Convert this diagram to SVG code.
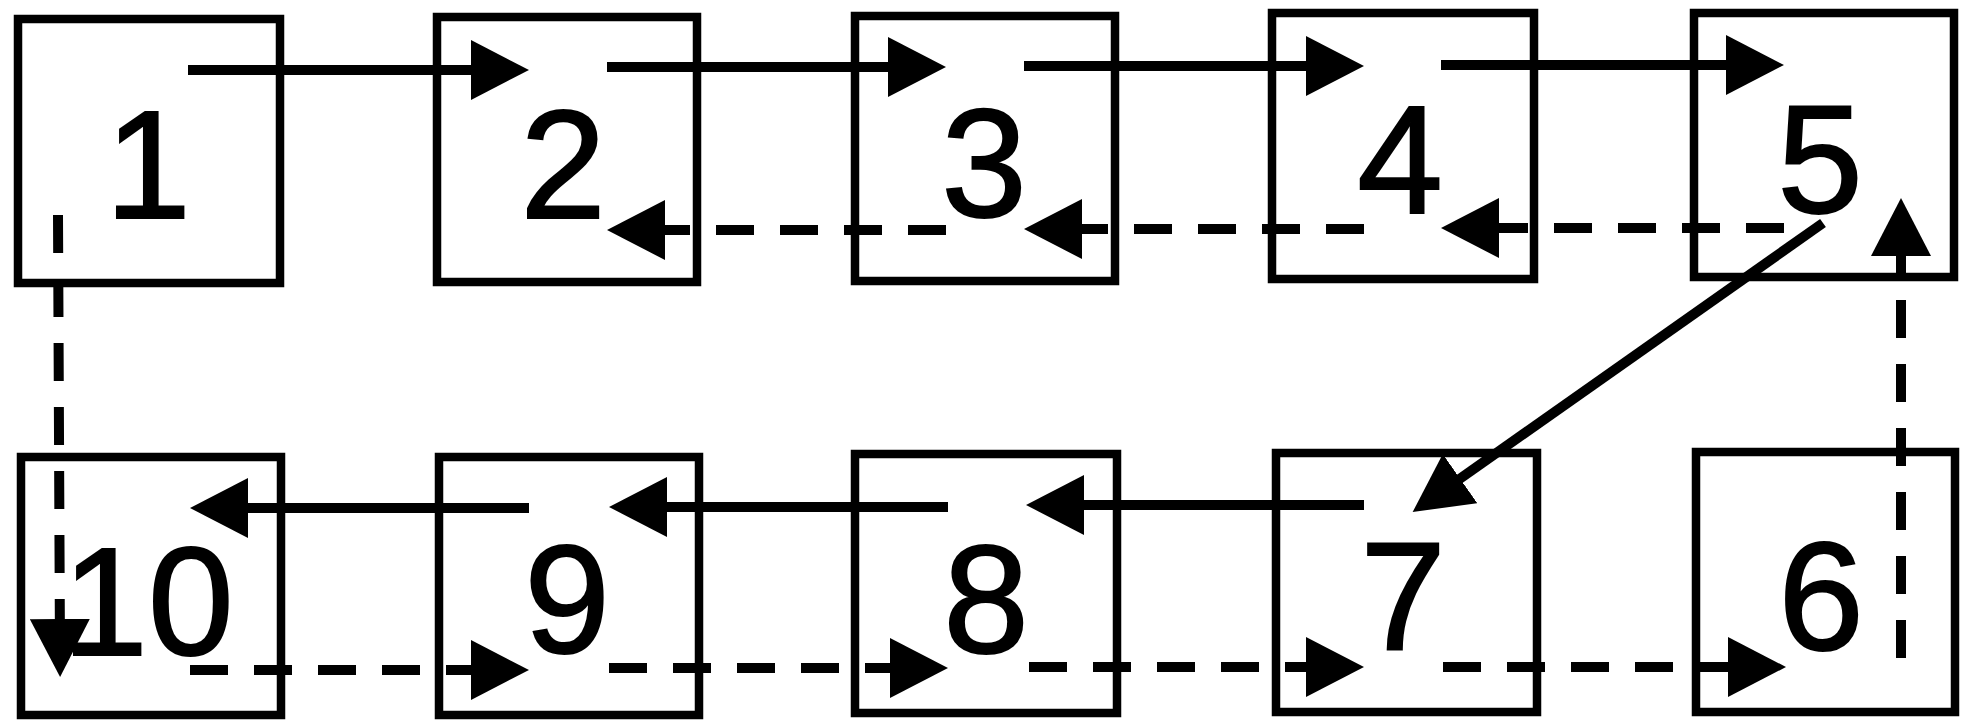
<svg xmlns="http://www.w3.org/2000/svg" width="1962" height="721" viewBox="0 0 1962 721">
<style>
.box{fill:none;stroke:#000;stroke-width:8.5}
.num{font-family:"Liberation Sans",Arial,sans-serif;font-size:154px;fill:#000;stroke:#000;stroke-width:2;text-anchor:middle}
.c{fill:none;stroke:#000;stroke-width:10;marker-end:url(#ah)}
.d{stroke-dasharray:38 26}
</style>
<defs>
<marker id="ah" markerUnits="userSpaceOnUse" viewBox="0 0 58 60" markerWidth="58" markerHeight="60" refX="38" refY="30" orient="auto">
<path d="M0,0 L58,30 L0,60 z" fill="#000"/>
</marker>
</defs>
<rect width="1962" height="721" fill="#fff"/>
<g id="n1"><rect class="box" x="18" y="19" width="262" height="264"/><text class="num" x="148" y="218">1</text></g>
<g id="n2"><rect class="box" x="437" y="17" width="260" height="265"/><text class="num" x="563" y="218">2</text></g>
<g id="n3"><rect class="box" x="855" y="16" width="260" height="265"/><text class="num" x="984" y="217">3</text></g>
<g id="n4"><rect class="box" x="1272" y="13" width="262" height="266"/><text class="num" x="1400" y="213">4</text></g>
<g id="n5"><rect class="box" x="1694" y="13" width="260" height="264"/><text class="num" x="1820" y="213">5</text></g>
<g id="n10"><rect class="box" x="21" y="457" width="260" height="258"/><text class="num" x="148" y="655">10</text></g>
<g id="n9"><rect class="box" x="439" y="457" width="260" height="258"/><text class="num" x="567" y="653">9</text></g>
<g id="n8"><rect class="box" x="855" y="454" width="262" height="259"/><text class="num" x="986" y="653">8</text></g>
<g id="n7"><rect class="box" x="1276" y="453" width="261" height="259"/><text class="num" x="1403" y="650">7</text></g>
<g id="n6"><rect class="box" x="1696" y="452" width="259" height="260"/><text class="num" x="1821" y="650">6</text></g>
<g id="connectors">
<path class="c" d="M188,70 H509"/>
<path class="c" d="M607,67 H926"/>
<path class="c" d="M1024,66 H1344"/>
<path class="c" d="M1441,65 H1764"/>
<path class="c d" d="M1784,228 H1461"/>
<path class="c d" d="M1364,229 H1044"/>
<path class="c d" d="M946,230 H627"/>
<path class="c" d="M1823,223 L1429,500.5"/>
<path class="c" d="M1364,505 H1046"/>
<path class="c" d="M948,507 H629"/>
<path class="c" d="M529,508 H210"/>
<path class="c d" d="M190,670 H509"/>
<path class="c d" d="M609,668 H928"/>
<path class="c d" d="M1029,667 H1344"/>
<path class="c d" d="M1443,667 H1766"/>
<path class="c d" d="M58,215 L60,657"/>
<path class="c d" d="M1901,658 V218"/>
</g>
</svg>
